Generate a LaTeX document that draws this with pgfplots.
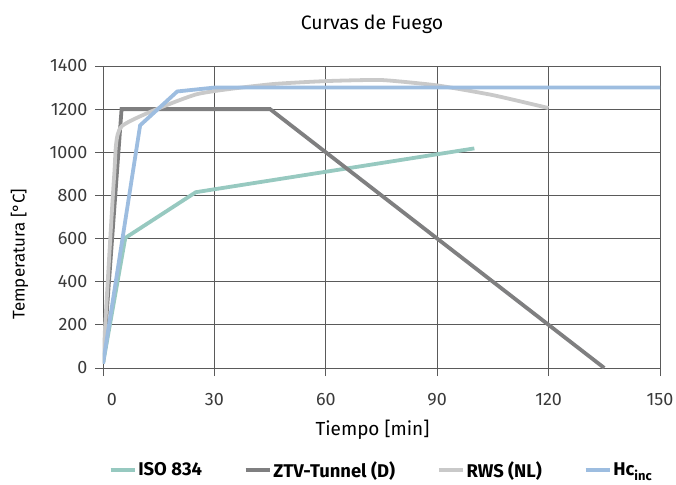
\documentclass[border=0pt]{standalone}
\usepackage{fontspec}
\setmainfont{Fira Sans}
\usepackage{pgfplots}
\pgfplotsset{compat=1.18}
\definecolor{iso}{HTML}{97C9C0}
\definecolor{ztv}{HTML}{7F7F80}
\definecolor{rws}{HTML}{C9C9C9}
\definecolor{hc}{HTML}{9DBDE0}
\definecolor{gridc}{HTML}{5A5A5A}
\definecolor{txt}{HTML}{3A3A3A}
\begin{document}
\begin{tikzpicture}
\begin{axis}[
  scale only axis,
  width=557bp, height=302bp,
  xmin=0, xmax=150, ymin=0, ymax=1400,
  xtick={0,30,60,90,120,150},
  xticklabels={\hspace*{18bp}0,30,60,90,120,150},
  ytick={0,200,400,600,800,1000,1200,1400},
  grid=major,
  grid style={gridc, line width=0.9pt},
  axis line style={gridc, line width=0.9pt},
  tick align=outside,
  tick pos=left,
  major tick length=8bp,
  tick style={gridc, line width=0.9pt},
  /pgf/number format/assume math mode=true,
  /pgf/number format/1000 sep={},
  tick label style={font=\fontsize{18}{21}\selectfont, text=txt},
  xticklabel style={yshift=-14bp},
  yticklabel style={xshift=-4bp},
  xlabel={Tiempo [min]},
  ylabel={Temperatura [°C]},
  xlabel style={font=\fontsize{19}{22}\selectfont, at={(axis description cs:0.5,0)}, anchor=base, yshift=-67bp, xshift=-9bp},
  ylabel style={font=\fontsize{17}{20}\selectfont, at={(axis description cs:-0.150,0.377)}, anchor=center},
  title={Curvas de Fuego},
  title style={font=\fontsize{19.5}{22}\selectfont, at={(axis description cs:0.5,1)}, anchor=base, yshift=31bp, xshift=-9.5bp},
  legend columns=4,
  legend style={at={(axis description cs:0.5,-0.338)}, anchor=center, draw=none, font=\bfseries\fontsize{18.5}{21}\selectfont,
    /tikz/every even column/.append style={column sep=40bp}},
  legend image code/.code={\draw[#1, line width=3.5bp] (0bp,0bp) -- (24bp,0bp);},
  every axis plot/.append style={line width=3.8bp},
]
\addplot[iso] coordinates {(0,20) (6,603) (25,815) (100,1018)};
\addlegendentry{ISO 834}
\addplot[ztv] coordinates {(0,20) (5,1200) (45,1200) (135,0)};
\addlegendentry{ZTV-Tunnel (D)}
\addplot[rws, smooth, tension=0.3] coordinates {(0,20) (3,890) (5,1120) (25,1268) (45,1315) (60,1330) (75,1335) (90,1310) (105,1265) (120,1205)};
\addlegendentry{RWS (NL)}
\addplot[hc] coordinates {(0,20) (10,1125) (20,1282) (30,1300) (150,1300)};
\addlegendentry{Hc\textsubscript{inc}}
\coordinate (sw) at (rel axis cs:0,0);
\coordinate (ne) at (rel axis cs:1,1);
\end{axis}
\pgfresetboundingbox
\path ([shift={(-103bp,-117bp)}]sw) rectangle ([shift={(16bp,66bp)}]ne);
\end{tikzpicture}
\end{document}
